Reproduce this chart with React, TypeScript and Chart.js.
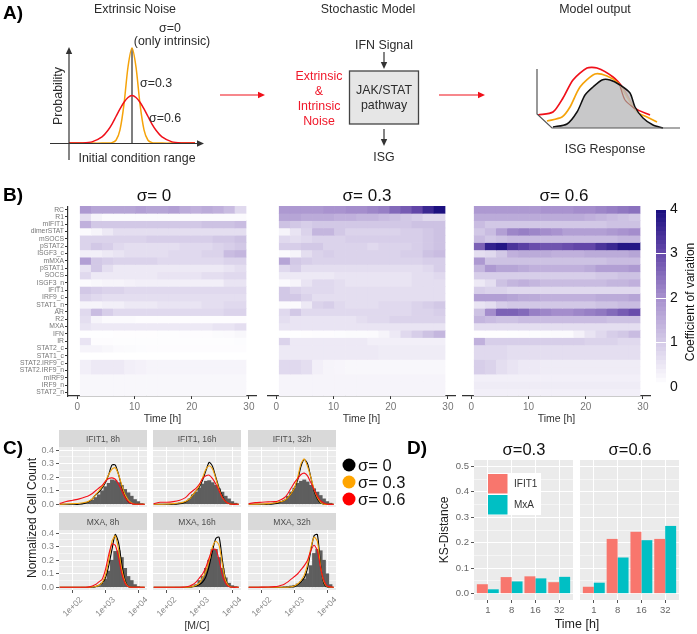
import React, { useEffect, useRef } from "react";
import { Chart, registerables } from "chart.js";

Chart.register(...registerables);

const FONT = "'Liberation Sans', Arial, sans-serif";
Chart.defaults.font.family = FONT;

/* ---------- data: panel A ---------- */
const gaussX = [-3.15, -2.5, -2, -1.5, -1.2, -1, -0.8, -0.6, -0.4, -0.2, 0, 0.2, 0.4, 0.6, 0.8, 1, 1.2, 1.5, 2, 2.5, 3.15];
const gaussOrange = [0, 0, 0, 0, 0.002, 0.005, 0.03, 0.14, 0.41, 0.8, 1, 0.8, 0.41, 0.14, 0.03, 0.005, 0.002, 0, 0, 0, 0];
const gaussRed = [0, 0.002, 0.013, 0.065, 0.135, 0.2, 0.28, 0.36, 0.43, 0.48, 0.5, 0.48, 0.43, 0.36, 0.28, 0.2, 0.135, 0.065, 0.013, 0.002, 0];

const outBlackX = [23, 37, 47, 55, 63, 72, 80, 90, 100, 105, 113, 123, 133];
const outBlackY = [3, 6, 18, 35, 43, 50, 50, 45, 37, 23, 12, 5, 2];
const outOrangeX = [17, 32, 40, 50, 65, 77, 88, 97, 107, 117, 127];
const outOrangeY = [9, 13, 23, 43, 56, 54, 47, 33, 18, 13, 8];
const outRedX = [8, 23, 33, 43, 57, 67, 83, 93, 105, 120];
const outRedY = [15, 18, 32, 50, 62, 62, 53, 42, 22, 15];
const outBrownX = [90, 95, 105];
const outBrownY = [44, 30, 21];

/* ---------- data: panel B ---------- */
const rowNames = ["RC", "R1", "mIFIT1", "dimerSTAT", "mSOCS", "pSTAT2", "ISGF3_c", "mMXA", "pSTAT1", "SOCS", "ISGF3_n", "IFIT1", "IRF9_c", "STAT1_n", "AR", "R2", "MXA", "IFN", "IR", "STAT2_c", "STAT1_c", "STAT2.IRF9_c", "STAT2.IRF9_n", "mIRF9", "IRF9_n", "STAT2_n"];
const timeBins = [1.47, 3.4, 5.33, 7.27, 9.2, 11.13, 13.07, 15, 16.93, 18.87, 20.8, 22.73, 24.67, 26.6, 28.53];
const heatSigma0 = [
  [1.8, 1.6, 1.6, 1.6, 1.6, 1.7, 1.6, 1.6, 1.7, 1.5, 1.4, 1.5, 1.4, 1.2, 0.7],
  [0.6, 0.2, 0.1, 0.1, 0.1, 0.1, 0.1, 0.1, 0.1, 0.1, 0.1, 0.1, 0.1, 0.1, 0.1],
  [1.4, 1, 1, 1, 1, 1, 1, 1, 1, 1, 1, 1.1, 1.1, 1.1, 1.2],
  [0.1, 0.2, 0.4, 0.6, 0.6, 0.6, 0.6, 0.6, 0.6, 0.6, 0.6, 0.6, 0.6, 0.6, 0.6],
  [0.8, 0.8, 0.8, 0.8, 0.8, 0.8, 0.9, 0.9, 0.9, 0.9, 0.9, 0.9, 1, 1, 1.1],
  [0.8, 1, 0.9, 0.7, 0.6, 0.6, 0.6, 0.6, 0.6, 0.7, 0.7, 0.7, 0.8, 0.9, 1],
  [0.3, 0.3, 0.4, 0.5, 0.6, 0.6, 0.6, 0.6, 0.7, 0.7, 0.7, 0.8, 0.8, 1.2, 1.3],
  [1.7, 1, 0.9, 0.8, 0.8, 0.8, 0.8, 0.7, 0.7, 0.7, 0.7, 0.7, 0.7, 0.8, 0.8],
  [0.5, 1, 0.6, 0.4, 0.4, 0.4, 0.4, 0.4, 0.4, 0.4, 0.4, 0.4, 0.4, 0.5, 0.6],
  [0.7, 0.4, 0.4, 0.4, 0.4, 0.4, 0.4, 0.5, 0.5, 0.5, 0.5, 0.6, 0.6, 0.7, 0.7],
  [0.1, 0.15, 0.2, 0.2, 0.25, 0.3, 0.3, 0.3, 0.3, 0.3, 0.3, 0.3, 0.3, 0.5, 0.5],
  [1, 0.9, 0.8, 0.8, 0.7, 0.7, 0.7, 0.7, 0.7, 0.7, 0.7, 0.7, 0.7, 0.7, 0.7],
  [0.8, 0.7, 0.6, 0.6, 0.6, 0.6, 0.6, 0.6, 0.6, 0.6, 0.6, 0.6, 0.6, 0.6, 0.6],
  [0.2, 0.2, 0.3, 0.3, 0.4, 0.4, 0.4, 0.5, 0.5, 0.5, 0.5, 0.6, 0.6, 0.7, 0.7],
  [0.7, 1.2, 0.9, 0.7, 0.7, 0.7, 0.7, 0.7, 0.7, 0.7, 0.7, 0.7, 0.7, 0.8, 0.8],
  [0.6, 0.2, 0.1, 0.1, 0.1, 0.05, 0.05, 0.05, 0.05, 0.05, 0.05, 0.05, 0.05, 0.05, 0.05],
  [0.5, 0.4, 0.4, 0.4, 0.4, 0.4, 0.4, 0.4, 0.4, 0.4, 0.4, 0.4, 0.5, 0.5, 0.6],
  [0.02, 0.02, 0.02, 0.03, 0.03, 0.03, 0.03, 0.04, 0.04, 0.05, 0.05, 0.05, 0.08, 0.1, 0.15],
  [0.5, 0.05, 0.05, 0.04, 0.04, 0.04, 0.04, 0.04, 0.04, 0.04, 0.04, 0.04, 0.04, 0.04, 0.06],
  [0.2, 0.2, 0.15, 0.1, 0.08, 0.06, 0.05, 0.05, 0.05, 0.05, 0.05, 0.05, 0.05, 0.05, 0.05],
  [0, 0, 0, 0, 0, 0, 0, 0, 0, 0, 0, 0, 0, 0, 0],
  [0.3, 0.4, 0.4, 0.4, 0.3, 0.25, 0.2, 0.2, 0.2, 0.2, 0.2, 0.2, 0.2, 0.2, 0.2],
  [0.3, 0.4, 0.4, 0.4, 0.3, 0.25, 0.2, 0.2, 0.2, 0.2, 0.2, 0.2, 0.2, 0.2, 0.2],
  [0.15, 0.15, 0.15, 0.15, 0.15, 0.15, 0.15, 0.15, 0.15, 0.15, 0.15, 0.15, 0.15, 0.15, 0.15],
  [0.15, 0.15, 0.15, 0.15, 0.15, 0.15, 0.15, 0.15, 0.15, 0.15, 0.15, 0.15, 0.15, 0.15, 0.15],
  [0.15, 0.15, 0.15, 0.15, 0.15, 0.15, 0.15, 0.15, 0.15, 0.15, 0.15, 0.15, 0.15, 0.15, 0.15],
];
const heatSigma03 = [
  [1.8, 1.8, 1.8, 1.8, 1.9, 1.9, 2, 2, 2.1, 2.2, 2.5, 2.7, 3, 3.5, 3.9],
  [1.6, 1.6, 1.5, 1.5, 1.5, 1.4, 1.4, 1.3, 1.3, 1.2, 1.1, 1, 0.9, 0.7, 0.7],
  [1.1, 1, 0.9, 1, 1, 1, 1, 1, 1, 1, 1, 1, 1.1, 1.1, 1.1],
  [0.2, 0.5, 0.8, 1.3, 1.3, 1, 0.8, 0.8, 0.8, 0.8, 0.8, 0.9, 0.9, 1, 1.1],
  [0.7, 0.6, 0.7, 0.8, 0.8, 0.8, 0.9, 0.9, 0.9, 0.9, 0.9, 0.9, 0.9, 1, 1.1],
  [0.9, 0.9, 1, 1, 0.8, 0.8, 0.8, 0.8, 0.7, 0.8, 0.8, 0.8, 0.9, 1, 1.1],
  [0.1, 0.2, 0.6, 0.8, 0.9, 0.8, 0.8, 0.8, 0.8, 0.8, 0.8, 0.9, 0.9, 1.1, 1.2],
  [1.6, 1, 0.9, 0.8, 0.8, 0.8, 0.8, 0.8, 0.8, 0.8, 0.8, 0.8, 0.8, 0.9, 0.9],
  [0.7, 0.9, 0.6, 0.6, 0.6, 0.6, 0.6, 0.6, 0.6, 0.6, 0.6, 0.6, 0.6, 0.7, 0.9],
  [0.4, 0.4, 0.4, 0.4, 0.4, 0.5, 0.5, 0.5, 0.5, 0.5, 0.5, 0.5, 0.6, 0.6, 0.7],
  [0.1, 0.2, 0.5, 0.7, 0.7, 0.6, 0.5, 0.5, 0.5, 0.5, 0.5, 0.5, 0.6, 0.6, 0.6],
  [1, 0.8, 0.7, 0.7, 0.7, 0.6, 0.6, 0.6, 0.6, 0.6, 0.6, 0.6, 0.6, 0.6, 0.6],
  [1, 1, 0.8, 0.6, 0.6, 0.6, 0.6, 0.6, 0.6, 0.6, 0.6, 0.6, 0.6, 0.6, 0.6],
  [0.1, 0.1, 0.4, 0.8, 0.9, 0.7, 0.6, 0.6, 0.6, 0.7, 0.7, 0.7, 0.8, 0.9, 1],
  [0.7, 1, 0.7, 0.7, 0.7, 0.7, 0.7, 0.7, 0.7, 0.7, 0.7, 0.7, 0.8, 0.8, 0.9],
  [0.6, 0.5, 0.5, 0.5, 0.5, 0.5, 0.5, 0.6, 0.7, 0.7, 0.8, 0.8, 0.8, 0.8, 0.8],
  [0.5, 0.5, 0.5, 0.5, 0.5, 0.5, 0.5, 0.5, 0.5, 0.5, 0.5, 0.5, 0.5, 0.5, 0.5],
  [0.02, 0.02, 0.03, 0.05, 0.05, 0.06, 0.08, 0.08, 0.1, 0.2, 0.4, 0.7, 0.9, 1.1, 1.3],
  [0.8, 0.4, 0.4, 0.4, 0.4, 0.4, 0.4, 0.4, 0.3, 0.3, 0.3, 0.3, 0.3, 0.3, 0.3],
  [0.4, 0.4, 0.4, 0.4, 0.4, 0.4, 0.4, 0.4, 0.4, 0.35, 0.35, 0.35, 0.35, 0.35, 0.35],
  [0.4, 0.4, 0.4, 0.4, 0.4, 0.4, 0.4, 0.4, 0.4, 0.35, 0.35, 0.35, 0.35, 0.35, 0.35],
  [0.7, 0.7, 0.6, 0.3, 0.2, 0.18, 0.15, 0.15, 0.15, 0.15, 0.15, 0.15, 0.15, 0.15, 0.15],
  [0.7, 0.7, 0.6, 0.3, 0.2, 0.18, 0.15, 0.15, 0.15, 0.15, 0.15, 0.15, 0.15, 0.15, 0.15],
  [0.2, 0.2, 0.2, 0.2, 0.2, 0.2, 0.2, 0.2, 0.2, 0.2, 0.2, 0.2, 0.2, 0.2, 0.2],
  [0.2, 0.2, 0.2, 0.2, 0.2, 0.2, 0.2, 0.2, 0.2, 0.2, 0.2, 0.2, 0.2, 0.2, 0.2],
  [0.2, 0.2, 0.2, 0.2, 0.2, 0.2, 0.2, 0.2, 0.2, 0.2, 0.2, 0.2, 0.2, 0.2, 0.2],
];
const heatSigma06 = [
  [1.8, 1.8, 1.8, 1.8, 1.8, 1.8, 1.9, 1.9, 1.9, 2, 2, 2.1, 2.2, 2.3, 2.4],
  [1.5, 1.5, 1.5, 1.5, 1.5, 1.5, 1.5, 1.5, 1.5, 1.5, 1.4, 1.3, 1.2, 1.1, 1],
  [1.2, 1, 1, 1, 1, 1, 1, 1, 1, 1, 1, 1, 1.1, 1.1, 1.1],
  [1, 1.2, 1.7, 2.1, 2.2, 2.1, 2, 1.9, 1.7, 1.7, 1.7, 1.7, 1.8, 1.9, 2],
  [1.2, 1, 1.1, 1.2, 1.2, 1.2, 1.2, 1.2, 1.2, 1.2, 1.2, 1.2, 1.2, 1.3, 1.3],
  [2.6, 3.6, 3.8, 3.3, 3.1, 2.9, 2.8, 2.8, 2.9, 3, 3, 3.3, 3.5, 3.8, 3.8],
  [0.6, 0.7, 1, 1.4, 1.5, 1.5, 1.5, 1.4, 1.4, 1.4, 1.5, 1.5, 1.5, 1.5, 1.6],
  [1.8, 1.1, 1.1, 1.1, 1.1, 1.1, 1.1, 1.1, 1.1, 1.1, 1.1, 1.1, 1.2, 1.2, 1.2],
  [1.3, 1.8, 1.6, 1.6, 1.5, 1.4, 1.4, 1.4, 1.4, 1.4, 1.5, 1.7, 1.7, 1.7, 1.8],
  [0.9, 0.9, 0.9, 0.9, 0.9, 0.9, 0.9, 0.9, 0.9, 0.9, 0.9, 1, 1, 1.1, 1.1],
  [0.4, 0.6, 1.1, 1.3, 1.4, 1.3, 1.2, 1.2, 1.2, 1.2, 1.2, 1.2, 1.3, 1.3, 1.4],
  [0.9, 0.8, 0.8, 0.7, 0.7, 0.7, 0.7, 0.7, 0.7, 0.7, 0.7, 0.7, 0.7, 0.7, 0.7],
  [1.7, 1.7, 1.7, 1.6, 1.5, 1.5, 1.4, 1.4, 1.4, 1.4, 1.4, 1.5, 1.5, 1.5, 1.6],
  [0.5, 0.6, 0.9, 1, 1, 1, 1, 1, 1, 1, 1, 1.1, 1.1, 1.2, 1.2],
  [1.1, 2, 2.6, 2.6, 2.5, 2.2, 2.1, 2, 2, 2.1, 2.2, 2.3, 2.5, 2.7, 2.9],
  [1.3, 1.2, 1.1, 1.1, 1.2, 1.2, 1.2, 1.2, 1.2, 1.2, 1.2, 1.2, 1.1, 1.1, 1.1],
  [0.6, 0.6, 0.6, 0.6, 0.6, 0.6, 0.6, 0.6, 0.6, 0.6, 0.6, 0.6, 0.6, 0.6, 0.6],
  [0.03, 0.03, 0.03, 0.04, 0.05, 0.06, 0.08, 0.1, 0.1, 0.25, 0.5, 0.7, 0.9, 1, 1.2],
  [1.4, 0.9, 0.9, 0.9, 0.9, 0.9, 0.9, 0.9, 0.9, 0.9, 0.8, 0.8, 0.8, 0.7, 0.7],
  [0.7, 0.7, 0.7, 0.6, 0.6, 0.6, 0.6, 0.6, 0.6, 0.6, 0.6, 0.6, 0.6, 0.6, 0.6],
  [0.7, 0.7, 0.7, 0.6, 0.6, 0.6, 0.6, 0.6, 0.6, 0.6, 0.6, 0.6, 0.6, 0.6, 0.6],
  [0.9, 0.8, 0.6, 0.5, 0.4, 0.4, 0.35, 0.35, 0.35, 0.35, 0.35, 0.35, 0.35, 0.35, 0.35],
  [0.9, 0.8, 0.6, 0.5, 0.4, 0.4, 0.35, 0.35, 0.35, 0.35, 0.35, 0.35, 0.35, 0.35, 0.35],
  [0.3, 0.3, 0.3, 0.3, 0.3, 0.3, 0.3, 0.3, 0.3, 0.3, 0.3, 0.3, 0.3, 0.3, 0.3],
  [0.35, 0.35, 0.35, 0.35, 0.35, 0.35, 0.35, 0.35, 0.35, 0.35, 0.35, 0.35, 0.35, 0.35, 0.35],
  [0.3, 0.3, 0.3, 0.3, 0.3, 0.3, 0.3, 0.3, 0.3, 0.3, 0.3, 0.3, 0.3, 0.3, 0.3],
];
const colorbarLevels = [0, 0.1, 0.2, 0.3, 0.4, 0.5, 0.6, 0.7, 0.8, 0.9, 1, 1.1, 1.2, 1.3, 1.4, 1.5, 1.6, 1.7, 1.8, 1.9, 2, 2.1, 2.2, 2.3, 2.4, 2.5, 2.6, 2.7, 2.8, 2.9, 3, 3.1, 3.2, 3.3, 3.4, 3.5, 3.6, 3.7, 3.8, 3.9, 4];

/* ---------- data: panel C ---------- */
const histBins = [2.3, 2.4, 2.5, 2.6, 2.7, 2.8, 2.9, 3, 3.1, 3.2, 3.3, 3.4, 3.5, 3.6, 3.7, 3.8, 3.9, 4, 4.1];
const densityX = [1.6, 1.8, 2, 2.2, 2.4, 2.5, 2.6, 2.7, 2.8, 2.9, 3, 3.1, 3.2, 3.3, 3.4, 3.5, 3.6, 3.7, 3.8, 3.9, 4, 4.2];

const histIfit8 = [0.005, 0.015, 0.02, 0.03, 0.05, 0.07, 0.1, 0.13, 0.155, 0.18, 0.175, 0.16, 0.14, 0.11, 0.085, 0.06, 0.035, 0.02, 0.005];
const blackIfit8 = [0, 0, 0, 0, 0.01, 0.02, 0.04, 0.07, 0.09, 0.12, 0.16, 0.22, 0.29, 0.29, 0.22, 0.13, 0.06, 0.02, 0.005, 0, 0, 0];
const orangeIfit8 = [0, 0.002, 0.005, 0.008, 0.015, 0.025, 0.04, 0.07, 0.1, 0.13, 0.17, 0.22, 0.26, 0.27, 0.22, 0.14, 0.07, 0.03, 0.01, 0, 0, 0];
const redIfit8 = [0.005, 0.02, 0.03, 0.04, 0.055, 0.065, 0.08, 0.1, 0.12, 0.14, 0.17, 0.19, 0.195, 0.185, 0.15, 0.1, 0.05, 0.02, 0.005, 0, 0, 0];

const histIfit16 = [0.005, 0.01, 0.015, 0.02, 0.04, 0.07, 0.09, 0.12, 0.15, 0.17, 0.175, 0.16, 0.14, 0.115, 0.09, 0.06, 0.04, 0.02, 0.008];
const blackIfit16 = [0, 0, 0, 0, 0.005, 0.01, 0.02, 0.04, 0.07, 0.1, 0.13, 0.18, 0.25, 0.31, 0.28, 0.2, 0.12, 0.06, 0.02, 0.005, 0, 0];
const orangeIfit16 = [0, 0, 0.002, 0.005, 0.01, 0.015, 0.025, 0.04, 0.07, 0.1, 0.14, 0.2, 0.26, 0.285, 0.26, 0.19, 0.11, 0.05, 0.02, 0.005, 0, 0];
const redIfit16 = [0.005, 0.015, 0.015, 0.02, 0.03, 0.04, 0.055, 0.08, 0.1, 0.12, 0.15, 0.19, 0.21, 0.215, 0.19, 0.15, 0.1, 0.05, 0.02, 0.005, 0, 0];

const histIfit32 = [0.005, 0.01, 0.015, 0.02, 0.03, 0.06, 0.09, 0.12, 0.155, 0.17, 0.18, 0.165, 0.14, 0.115, 0.09, 0.065, 0.04, 0.02, 0.008];
const blackIfit32 = [0, 0, 0, 0, 0.005, 0.01, 0.02, 0.03, 0.05, 0.08, 0.12, 0.18, 0.28, 0.33, 0.3, 0.2, 0.1, 0.04, 0.01, 0, 0, 0];
const orangeIfit32 = [0, 0.001, 0.002, 0.005, 0.01, 0.015, 0.02, 0.03, 0.05, 0.08, 0.12, 0.2, 0.3, 0.335, 0.28, 0.2, 0.11, 0.05, 0.015, 0, 0, 0];
const redIfit32 = [0.005, 0.012, 0.015, 0.018, 0.02, 0.025, 0.035, 0.05, 0.08, 0.12, 0.16, 0.19, 0.22, 0.23, 0.21, 0.16, 0.11, 0.06, 0.025, 0.01, 0, 0];

const histMxa8 = [0, 0, 0, 0, 0.003, 0.01, 0.03, 0.06, 0.12, 0.2, 0.265, 0.27, 0.22, 0.14, 0.08, 0.05, 0.02, 0.005, 0];
const blackMxa8 = [0, 0, 0, 0, 0, 0, 0.002, 0.005, 0.015, 0.03, 0.07, 0.16, 0.28, 0.39, 0.33, 0.17, 0.05, 0.005, 0, 0, 0, 0];
const orangeMxa8 = [0, 0, 0, 0, 0, 0, 0.003, 0.006, 0.015, 0.035, 0.09, 0.2, 0.34, 0.38, 0.28, 0.13, 0.04, 0.005, 0, 0, 0, 0];
const redMxa8 = [0, 0, 0, 0, 0, 0.003, 0.01, 0.02, 0.04, 0.06, 0.13, 0.24, 0.32, 0.31, 0.22, 0.1, 0.03, 0.005, 0, 0, 0, 0];

const histMxa16 = [0, 0, 0, 0, 0, 0.01, 0.02, 0.05, 0.08, 0.14, 0.2, 0.28, 0.28, 0.22, 0.14, 0.07, 0.03, 0.012, 0.005];
const blackMxa16 = [0, 0, 0, 0, 0, 0, 0, 0.002, 0.005, 0.01, 0.02, 0.04, 0.08, 0.16, 0.27, 0.36, 0.37, 0.2, 0.06, 0.01, 0, 0];
const orangeMxa16 = [0, 0, 0, 0, 0, 0, 0.001, 0.003, 0.006, 0.015, 0.03, 0.07, 0.12, 0.2, 0.3, 0.34, 0.31, 0.17, 0.05, 0.01, 0, 0];
const redMxa16 = [0, 0, 0, 0, 0, 0.001, 0.004, 0.01, 0.02, 0.04, 0.07, 0.1, 0.15, 0.22, 0.28, 0.28, 0.2, 0.09, 0.03, 0.005, 0, 0];

const histMxa32 = [0, 0, 0, 0, 0.002, 0.005, 0.01, 0.015, 0.025, 0.04, 0.06, 0.1, 0.16, 0.25, 0.28, 0.27, 0.2, 0.1, 0.02];
const blackMxa32 = [0, 0, 0, 0, 0, 0, 0, 0, 0, 0.002, 0.005, 0.02, 0.04, 0.07, 0.14, 0.27, 0.38, 0.39, 0.16, 0.03, 0.003, 0];
const orangeMxa32 = [0, 0, 0, 0, 0, 0, 0, 0, 0, 0.004, 0.01, 0.025, 0.05, 0.09, 0.17, 0.29, 0.37, 0.34, 0.15, 0.04, 0.005, 0];
const redMxa32 = [0, 0, 0.001, 0.002, 0.005, 0.008, 0.015, 0.025, 0.04, 0.06, 0.08, 0.1, 0.13, 0.16, 0.2, 0.27, 0.31, 0.27, 0.14, 0.05, 0.01, 0];

const facetTitles = ["IFIT1, 8h", "IFIT1, 16h", "IFIT1, 32h", "MXA, 8h", "MXA, 16h", "MXA, 32h"];
const xTickValues = [2, 2.5, 3, 3.5, 4];
const xTickNames: Record<string, string> = { "2": "1e+02", "3": "1e+03", "4": "1e+04" };
const facetYTicks = [0, 0.05, 0.1, 0.15, 0.2, 0.25, 0.3, 0.35, 0.4];

/* ---------- data: panel D ---------- */
const ksTimes = ["1", "8", "16", "32"];
const ksIfitLow = [0.037, 0.065, 0.068, 0.045];
const ksMxaLow = [0.017, 0.048, 0.06, 0.066];
const ksIfitHigh = [0.027, 0.215, 0.243, 0.215];
const ksMxaHigh = [0.043, 0.142, 0.21, 0.266];
const ksYTicks = [0, 0.05, 0.1, 0.15, 0.2, 0.25, 0.3, 0.35, 0.4, 0.45, 0.5];

/* ---------- helpers ---------- */
const zip = (xs: number[], ys: number[]) => xs.map((x, i) => ({ x, y: ys[i] }));

const colorStops: [number, number, number, number][] = [
  [0, 255, 255, 255],
  [1, 210, 200, 230],
  [2, 164, 141, 204],
  [3, 98, 70, 168],
  [4, 20, 10, 124],
];
function heatColor(v: number) {
  for (let i = 1; i < colorStops.length; i++) {
    const a = colorStops[i - 1];
    const b = colorStops[i];
    if (v <= b[0]) {
      const t = (v - a[0]) / (b[0] - a[0]);
      return `rgb(${Math.round(a[1] + t * (b[1] - a[1]))},${Math.round(a[2] + t * (b[2] - a[2]))},${Math.round(a[3] + t * (b[3] - a[3]))})`;
    }
  }
  return "rgb(20,10,124)";
}

const fit = (size: number) => (s: any) => {
  if (s.isHorizontal()) s.height = size;
  else s.width = size;
  s.paddingLeft = s.paddingRight = s.paddingTop = s.paddingBottom = 0;
};
const useTicks = (list: number[]) => (s: any) => {
  s.ticks = list.map((value) => ({ value }));
};
const panelBg = {
  id: "panelBg",
  beforeDraw(chart: any) {
    const { ctx, chartArea: a } = chart;
    ctx.save();
    ctx.fillStyle = "#ebebeb";
    ctx.fillRect(a.left, a.top, a.right - a.left, a.bottom - a.top);
    ctx.restore();
  },
};
/* ggplot centres its 45-degree labels on the tick; Chart.js right-aligns them */
const centredRotatedLabels = {
  id: "centredRotatedLabels",
  afterDraw(chart: any) {
    const { ctx, chartArea: a } = chart;
    const x = chart.scales.x;
    ctx.save();
    ctx.font = `8.5px ${FONT}`;
    ctx.fillStyle = "#888";
    ctx.textAlign = "center";
    ctx.textBaseline = "middle";
    Object.keys(xTickNames).forEach((k) => {
      ctx.save();
      ctx.translate(x.getPixelForValue(Number(k)), a.bottom + 17);
      ctx.rotate(-Math.PI / 4);
      ctx.fillText(xTickNames[k], 0, 0);
      ctx.restore();
    });
    ctx.restore();
  },
};
const isTenth = (v: number) => Math.abs(v * 10 - Math.round(v * 10)) < 1e-6;

type Plot = { l: number; t: number; r: number; b: number };
type Margin = { l: number; t: number; r: number; b: number };
type Spec = { plot: Plot; m: Margin; config: any };

function baseOptions(m: Margin, scales: any) {
  return {
    responsive: false,
    animation: false,
    events: [],
    layout: { padding: { left: 0, top: m.t, right: m.r, bottom: 0 } },
    plugins: { legend: { display: false }, title: { display: false }, tooltip: { enabled: false } },
    scales,
  };
}
const hiddenMargin = { l: 0, t: 0, r: 0, b: 0 };
const curve = (xs: number[], ys: number[], color: string, width = 1.5, extra: any = {}) => ({
  type: "line",
  data: zip(xs, ys),
  borderColor: color,
  borderWidth: width,
  pointRadius: 0,
  tension: 0.25,
  ...extra,
});

/* ---------- chart specs ---------- */
function gaussSpec(): Spec {
  return {
    plot: { l: 50, t: 40, r: 205, b: 165 },
    m: hiddenMargin,
    config: {
      type: "line",
      data: {
        datasets: [
          curve([0, 0], [0, 1], "#7f7f7f", 2, { order: 3 }),
          curve(gaussX, gaussOrange, "#f5a30a", 1.5, { order: 2 }),
          curve(gaussX, gaussRed, "#f0101a", 1.5, { order: 1 }),
        ],
      },
      options: baseOptions(hiddenMargin, {
        x: { type: "linear", display: false, min: -4.1, max: 3.65 },
        y: { display: false, min: -0.23, max: 1.084 },
      }),
    },
  };
}
function outputSpec(): Spec {
  return {
    plot: { l: 530, t: 60, r: 690, b: 135 },
    m: hiddenMargin,
    config: {
      type: "line",
      data: {
        datasets: [
          curve(outRedX, outRedY, "#f0101a", 1.7, { order: 3 }),
          curve(outOrangeX, outOrangeY, "#f5a30a", 1.7, { order: 2 }),
          curve(outBlackX, outBlackY, "#111111", 1.5, { order: 1, fill: { value: 2 }, backgroundColor: "rgba(190,190,192,0.85)" }),
          curve(outBrownX, outBrownY, "#b07a70", 1.2, { order: 0 }),
        ],
      },
      options: baseOptions(hiddenMargin, {
        x: { type: "linear", display: false, min: 0, max: 160 },
        y: { display: false, min: -5, max: 70 },
      }),
    },
  };
}
function heatSpec(matrix: number[][], plot: Plot, withLabels: boolean): Spec {
  const m = { l: withLabels ? 60 : 0, t: 0, r: 0, b: 29 };
  return {
    plot,
    m,
    config: {
      type: "bar",
      data: {
        datasets: matrix.map((row, r) => ({
          data: row.map((_, i) => ({ x: timeBins[i], y: [r, r + 1] })),
          backgroundColor: row.map(heatColor),
          barPercentage: 1,
          categoryPercentage: 1,
          grouped: false,
          borderWidth: 0,
        })),
      },
      options: baseOptions(m, {
        x: {
          type: "linear",
          offset: false,
          min: -1.63,
          max: 31.41,
          afterBuildTicks: useTicks([0, 10, 20, 30]),
          afterFit: fit(m.b),
          border: { display: true, color: "#333", width: 1.2 },
          grid: { offset: false, drawOnChartArea: false, tickLength: 3, tickColor: "#333" },
          ticks: { color: "#777", font: { size: 10 }, padding: 2, maxRotation: 0, autoSkip: false, callback: (v: number) => String(v) },
          title: { display: true, text: "Time [h]", color: "#333", font: { size: 10.5 }, padding: 0 },
        },
        y: {
          type: "linear",
          reverse: true,
          min: 0,
          max: rowNames.length,
          display: withLabels,
          afterBuildTicks: useTicks(rowNames.map((_, i) => i + 0.5)),
          afterFit: fit(m.l),
          border: { display: true, color: "#333", width: 1.2 },
          grid: { drawOnChartArea: false, tickLength: 3, tickColor: "#333" },
          ticks: { color: "#777", font: { size: 6.8 }, padding: 1, autoSkip: false, callback: (v: number) => rowNames[Math.floor(v)] },
        },
      }),
    },
  };
}
function colorbarSpec(): Spec {
  const m = { l: 0, t: 8, r: 20, b: 8 };
  return {
    plot: { l: 656, t: 209, r: 666, b: 387 },
    m,
    config: {
      type: "bar",
      data: {
        labels: ["CV"],
        datasets: colorbarLevels.slice(0, -1).map((lvl, i) => ({
          data: [[lvl, colorbarLevels[i + 1]]],
          backgroundColor: heatColor(lvl),
          barPercentage: 1,
          categoryPercentage: 1,
          grouped: false,
          borderWidth: 0,
        })),
      },
      options: {
        ...baseOptions(m, {
          x: { display: false },
          y: {
            position: "right",
            min: 0,
            max: 4,
            afterBuildTicks: useTicks([0, 1, 2, 3, 4]),
            afterFit: fit(m.r),
            border: { display: false },
            grid: { color: "#ffffff", lineWidth: 1, z: 1, drawTicks: false },
            ticks: { color: "#111", font: { size: 14 }, padding: 4, autoSkip: false, callback: (v: number) => String(v) },
          },
        }),
        layout: { padding: { left: 0, top: m.t, right: 0, bottom: m.b } },
      },
    },
  };
}
function facetSpec(plot: Plot, hist: number[], black: number[], orange: number[], red: number[], showX: boolean, showY: boolean): Spec {
  const m = { l: 34, t: 0, r: 0, b: showX ? 34 : 0 };
  return {
    plot,
    m,
    config: {
      type: "bar",
      plugins: showX ? [panelBg, centredRotatedLabels] : [panelBg],
      data: {
        datasets: [
          { type: "bar", data: zip(histBins, hist), backgroundColor: "#5e5e5e", barPercentage: 1, categoryPercentage: 1, borderWidth: 0, order: 4 },
          curve(densityX, black, "#000000", 1.1, { order: 3 }),
          curve(densityX, orange, "#f5a30a", 1.1, { order: 2 }),
          curve(densityX, red, "#f5101a", 1.1, { order: 1 }),
        ],
      },
      options: baseOptions(m, {
        x: {
          type: "linear",
          offset: false,
          min: 1.58,
          max: 4.27,
          afterBuildTicks: useTicks(xTickValues),
          afterFit: fit(m.b),
          border: { display: false },
          grid: {
            offset: false,
            color: "#ffffff",
            lineWidth: (c: any) => (Number.isInteger(c.tick?.value) ? 1 : 0.5),
            tickLength: showX ? 3 : 0,
            tickColor: (c: any) => (Number.isInteger(c.tick?.value) ? "#555" : "transparent"),
          },
          ticks: { display: false, autoSkip: false },
        },
        y: {
          min: -0.02,
          max: 0.423,
          afterBuildTicks: useTicks(facetYTicks),
          afterFit: fit(m.l),
          border: { display: false },
          grid: {
            color: "#ffffff",
            lineWidth: (c: any) => (isTenth(c.tick?.value ?? 0) ? 1 : 0.5),
            tickLength: showY ? 3 : 0,
            tickColor: (c: any) => (isTenth(c.tick?.value ?? 0) ? "#555" : "transparent"),
          },
          ticks: {
            display: showY,
            color: "#888",
            font: { size: 9 },
            padding: 2,
            autoSkip: false,
            callback: (v: number) => (isTenth(v) ? v.toFixed(1) : ""),
          },
        },
      }),
    },
  };
}
function ksSpec(plot: Plot, ifit: number[], mxa: number[], showY: boolean): Spec {
  const m = { l: showY ? 30 : 0, t: 0, r: 0, b: 16 };
  const pos = [1, 2, 3, 4];
  return {
    plot,
    m,
    config: {
      type: "bar",
      plugins: [panelBg],
      data: {
        datasets: [
          { data: zip(pos, ifit), backgroundColor: "#F8766D", barPercentage: 1, categoryPercentage: 0.92, borderWidth: 0 },
          { data: zip(pos, mxa), backgroundColor: "#00BFC4", barPercentage: 1, categoryPercentage: 0.92, borderWidth: 0 },
        ],
      },
      options: baseOptions(m, {
        x: {
          type: "linear",
          offset: false,
          min: 0.42,
          max: 4.58,
          afterBuildTicks: useTicks(pos),
          afterFit: fit(m.b),
          border: { display: false },
          grid: { offset: false, color: "#ffffff", lineWidth: 1, tickLength: 3, tickColor: "#555" },
          ticks: { color: "#666", font: { size: 9.5 }, padding: 2, autoSkip: false, maxRotation: 0, callback: (v: number) => ksTimes[v - 1] },
        },
        y: {
          min: -0.025,
          max: 0.525,
          afterBuildTicks: useTicks(ksYTicks),
          afterFit: fit(m.l),
          border: { display: false },
          grid: {
            color: "#ffffff",
            lineWidth: (c: any) => (isTenth(c.tick?.value ?? 0) ? 1 : 0.5),
            tickLength: showY ? 3 : 0,
            tickColor: (c: any) => (isTenth(c.tick?.value ?? 0) ? "#555" : "transparent"),
          },
          ticks: {
            display: showY,
            color: "#666",
            font: { size: 9.5 },
            padding: 2,
            autoSkip: false,
            callback: (v: number) => (isTenth(v) ? v.toFixed(1) : ""),
          },
        },
      }),
    },
  };
}

function buildSpecs(): Spec[] {
  const r1 = { t: 447, b: 507 };
  const r2 = { t: 530, b: 590 };
  const c1 = { l: 59, r: 147 };
  const c2 = { l: 153, r: 241 };
  const c3 = { l: 248, r: 336 };
  return [
    gaussSpec(),
    outputSpec(),
    heatSpec(heatSigma0, { l: 68, t: 206, r: 257, b: 396 }, true),
    heatSpec(heatSigma03, { l: 267, t: 206, r: 456, b: 396 }, false),
    heatSpec(heatSigma06, { l: 462, t: 206, r: 651, b: 396 }, false),
    colorbarSpec(),
    facetSpec({ ...c1, ...r1 }, histIfit8, blackIfit8, orangeIfit8, redIfit8, false, true),
    facetSpec({ ...c2, ...r1 }, histIfit16, blackIfit16, orangeIfit16, redIfit16, false, false),
    facetSpec({ ...c3, ...r1 }, histIfit32, blackIfit32, orangeIfit32, redIfit32, false, false),
    facetSpec({ ...c1, ...r2 }, histMxa8, blackMxa8, orangeMxa8, redMxa8, true, true),
    facetSpec({ ...c2, ...r2 }, histMxa16, blackMxa16, orangeMxa16, redMxa16, true, false),
    facetSpec({ ...c3, ...r2 }, histMxa32, blackMxa32, orangeMxa32, redMxa32, true, false),
    ksSpec({ l: 474, t: 460, r: 573, b: 600 }, ksIfitLow, ksMxaLow, true),
    ksSpec({ l: 580, t: 460, r: 679, b: 600 }, ksIfitHigh, ksMxaHigh, false),
  ];
}

/* ---------- overlay ---------- */
function Arrow({ x1, y1, x2, y2, color }: { x1: number; y1: number; x2: number; y2: number; color: string }) {
  const a = Math.atan2(y2 - y1, x2 - x1);
  const s = 7;
  const w = 3.2;
  const bx = x2 - s * Math.cos(a);
  const by = y2 - s * Math.sin(a);
  const pts = `${x2},${y2} ${bx - w * Math.sin(a)},${by + w * Math.cos(a)} ${bx + w * Math.sin(a)},${by - w * Math.cos(a)}`;
  return (
    <g>
      <line x1={x1} y1={y1} x2={bx} y2={by} stroke={color} strokeWidth={1.2} />
      <polygon points={pts} fill={color} />
    </g>
  );
}
function Txt({ x, y, s = 12.4, c = "#2b2b2b", a = "middle", w, r, children }: any) {
  return (
    <text
      x={x}
      y={y}
      fontSize={s}
      fill={c}
      textAnchor={a}
      fontWeight={w}
      fontFamily={FONT}
      transform={r ? `rotate(${r} ${x} ${y})` : undefined}
    >
      {children}
    </text>
  );
}
const stripCells = [
  [59, 430, 88, 17],
  [153, 430, 88, 17],
  [248, 430, 88, 17],
  [59, 513, 88, 17],
  [153, 513, 88, 17],
  [248, 513, 88, 17],
];
function Overlay() {
  return (
    <svg width={697} height={634} style={{ position: "absolute", left: 0, top: 0, pointerEvents: "none" }}>
      <Txt x={3} y={19} s={19} c="#000" a="start" w="bold">A)</Txt>
      <Txt x={3} y={201} s={19} c="#000" a="start" w="bold">B)</Txt>
      <Txt x={3} y={454} s={19} c="#000" a="start" w="bold">C)</Txt>
      <Txt x={407} y={454} s={19} c="#000" a="start" w="bold">D)</Txt>

      <Txt x={135} y={13}>Extrinsic Noise</Txt>
      <Txt x={170} y={32}>σ=0</Txt>
      <Txt x={172} y={45}>(only intrinsic)</Txt>
      <Txt x={140} y={87} a="start">σ=0.3</Txt>
      <Txt x={149} y={122} a="start">σ=0.6</Txt>
      <Txt x={62} y={96} r={-90}>Probability</Txt>
      <Txt x={137} y={162}>Initial condition range</Txt>
      <Arrow x1={50} y1={143.5} x2={204} y2={143.5} color="#333" />
      <Arrow x1={69} y1={160} x2={69} y2={47} color="#333" />
      <Arrow x1={220} y1={95} x2={265} y2={95} color="#f0101a" />
      <Arrow x1={439} y1={95} x2={485} y2={95} color="#f0101a" />
      <Txt x={319} y={80} c="#f0182a">Extrinsic</Txt>
      <Txt x={319} y={95} c="#f0182a">&amp;</Txt>
      <Txt x={319} y={110} c="#f0182a">Intrinsic</Txt>
      <Txt x={319} y={125} c="#f0182a">Noise</Txt>

      <Txt x={368} y={13}>Stochastic Model</Txt>
      <Txt x={384} y={49}>IFN Signal</Txt>
      <Arrow x1={384} y1={52} x2={384} y2={69} color="#333" />
      <rect x={349.5} y={71} width={69} height={53} fill="#e6e6e6" stroke="#444" strokeWidth={1.3} />
      <Txt x={384} y={94}>JAK/STAT</Txt>
      <Txt x={384} y={109}>pathway</Txt>
      <Arrow x1={384} y1={129} x2={384} y2={146} color="#333" />
      <Txt x={384} y={161}>ISG</Txt>

      <Txt x={595} y={13}>Model output</Txt>
      <Txt x={605} y={153}>ISG Response</Txt>
      <polyline points="537,69 537,114 552,128 680,128" fill="none" stroke="#555" strokeWidth={1.2} />

      <Txt x={154} y={201} s={17} c="#111">σ= 0</Txt>
      <Txt x={367} y={201} s={17} c="#111">σ= 0.3</Txt>
      <Txt x={564} y={201} s={17} c="#111">σ= 0.6</Txt>
      <Txt x={694} y={302} s={12} c="#111" r={-90}>Coefficient of variation</Txt>

      {stripCells.map((c, i) => (
        <g key={i}>
          <rect x={c[0]} y={c[1]} width={c[2]} height={c[3]} fill="#d9d9d9" />
          <Txt x={c[0] + c[2] / 2} y={c[1] + 12} s={8.5} c="#4d4d4d">{facetTitles[i]}</Txt>
        </g>
      ))}
      <Txt x={36} y={518} s={12} c="#222" r={-90}>Normalized Cell Count</Txt>
      <Txt x={197} y={629} s={10.5} c="#333">[M/C]</Txt>

      <circle cx={349} cy={465} r={6.5} fill="#000" />
      <circle cx={349} cy={482} r={6.5} fill="#FFA500" />
      <circle cx={349} cy={499} r={6.5} fill="#FF0000" />
      <Txt x={358} y={471} s={16.5} c="#111" a="start">σ= 0</Txt>
      <Txt x={358} y={488} s={16.5} c="#111" a="start">σ= 0.3</Txt>
      <Txt x={358} y={505} s={16.5} c="#111" a="start">σ= 0.6</Txt>

      <Txt x={524} y={455} s={16.5} c="#111">σ=0.3</Txt>
      <Txt x={630} y={455} s={16.5} c="#111">σ=0.6</Txt>
      <Txt x={448} y={530} s={12} c="#222" r={-90}>KS-Distance</Txt>
      <Txt x={577} y={628} s={12.5} c="#222">Time [h]</Txt>
      <rect x={487} y={473} width={54} height={42} fill="#fff" />
      <rect x={488} y={474} width={19.5} height={19.5} fill="#F8766D" />
      <rect x={488} y={495} width={19.5} height={19.5} fill="#00BFC4" />
      <Txt x={514} y={487} s={10} c="#333" a="start">IFIT1</Txt>
      <Txt x={514} y={508} s={10} c="#333" a="start">MxA</Txt>
    </svg>
  );
}

export default function App() {
  const specs = useRef<Spec[]>(buildSpecs()).current;
  const refs = useRef<(HTMLCanvasElement | null)[]>([]);
  useEffect(() => {
    document.body.style.margin = "0";
    document.body.style.background = "#fff";
    const charts = specs.map((s, i) => new Chart(refs.current[i] as HTMLCanvasElement, s.config));
    return () => charts.forEach((c) => c.destroy());
  }, [specs]);
  return (
    <div style={{ position: "absolute", left: 0, top: 0, width: 697, height: 634, overflow: "hidden", background: "#fff", filter: "blur(0.35px)" }}>
      {specs.map((s, i) => {
        const w = s.plot.r - s.plot.l + s.m.l + s.m.r;
        const h = s.plot.b - s.plot.t + s.m.t + s.m.b;
        return (
          <canvas
            key={i}
            ref={(el) => {
              refs.current[i] = el;
            }}
            width={w}
            height={h}
            style={{ position: "absolute", left: s.plot.l - s.m.l, top: s.plot.t - s.m.t, width: w, height: h }}
          />
        );
      })}
      <Overlay />
    </div>
  );
}
